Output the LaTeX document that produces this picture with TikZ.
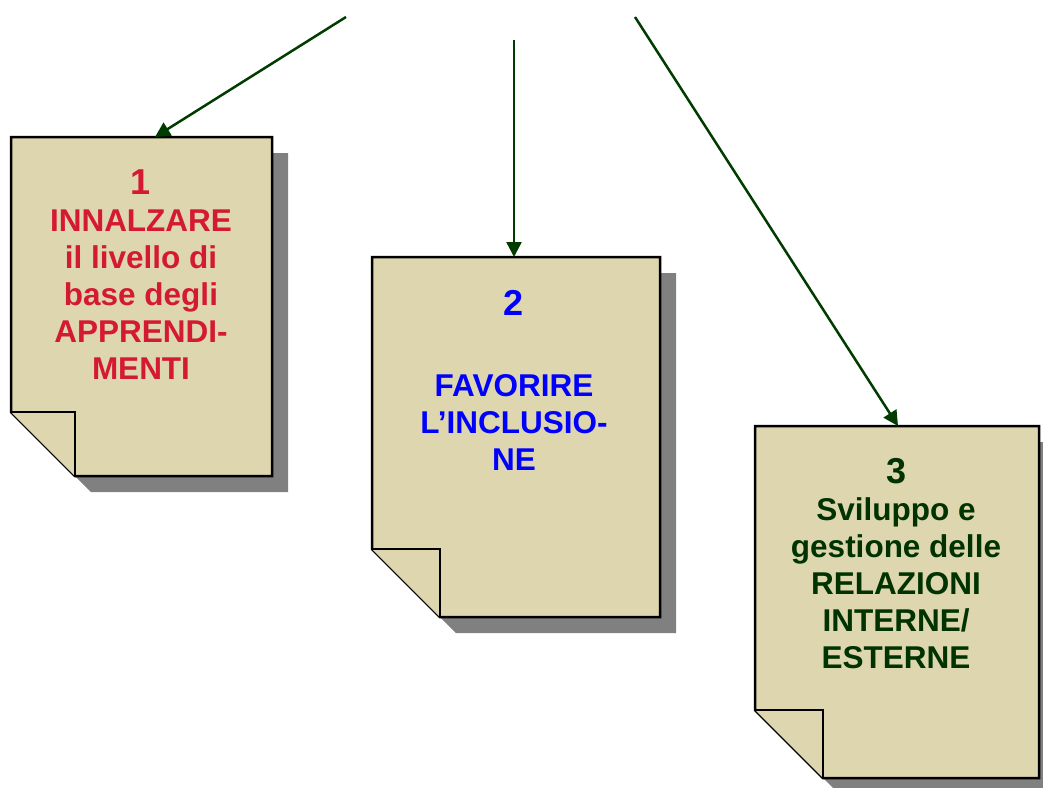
\documentclass[tikz,border=0pt]{standalone}
\usepackage{fontspec}
\setmainfont{Liberation Sans}
\usetikzlibrary{arrows.meta}
\definecolor{paper}{RGB}{222,214,174}
\definecolor{shade}{RGB}{128,128,128}
\definecolor{txtred}{RGB}{212,26,50}
\definecolor{txtblue}{RGB}{0,0,255}
\definecolor{txtgreen}{RGB}{0,51,0}
\definecolor{arrowgreen}{RGB}{0,60,0}
\newcommand{\bignum}[1]{{\fontsize{36}{37}\selectfont #1}}
\tikzset{
  docshadow/.style={fill=shade,draw=none},
  docbody/.style={fill=paper,draw=black,line width=2.5pt,line join=miter},
  doctext/.style={align=center,anchor=base,inner sep=0pt,font=\fontsize{31.5}{37}\selectfont\bfseries},
  conn/.style={draw=arrowgreen,line width=2.5pt,-{Triangle[length=15pt,width=15pt]}}
}
\newcommand{\docshape}[5]{% left, top, right, bottom, fold size
  \fill[docshadow] ({#1+16},{#2+16}) -- ({#3+16},{#2+16}) -- ({#3+16},{#4+16}) -- ({#1+#5+16},{#4+16}) -- ({#1+16},{#4-#5+16}) -- cycle;
  \draw[docbody] (#1,#2) -- (#3,#2) -- (#3,#4) -- ({#1+#5},#4) -- (#1,{#4-#5}) -- cycle;
  \draw[docbody] (#1,{#4-#5}) -- ({#1+#5},{#4-#5}) -- ({#1+#5},#4);
}
\begin{document}
\begin{tikzpicture}[x=1pt,y=-1pt]
\useasboundingbox (0,0) rectangle (1043,787);
% documents
\docshape{11}{137}{272}{476}{64}
\docshape{372}{257}{660}{617}{68}
\docshape{755}{426}{1039}{778}{68}
% anchors on the documents
\coordinate (d1) at (155,137);
\coordinate (d2) at (514,257);
\coordinate (d3) at (898,426);
% free ends
\coordinate (s1) at (346,17);
\coordinate (s2) at (514,40);
\coordinate (s3) at (635,17);
% texts (base anchor = baseline of last line)
\node[doctext,text=txtred] (t1) at (141,379) {\bignum{1}\\INNALZARE\\il livello di\\base degli\\APPRENDI-\\MENTI};
\node[doctext,text=txtblue] (t2) at (514,470) {\bignum{2}\\[44pt]FAVORIRE\\L’INCLUSIO-\\NE};
\node[doctext,text=txtgreen] (t3) at (896,668) {\bignum{3}\\Sviluppo e\\gestione delle\\RELAZIONI\\INTERNE/\\ESTERNE};
% connectors
\draw[conn] (s1) -- (d1);
\draw[conn] (s2) -- (d2);
\draw[conn] (s3) -- (d3);
\end{tikzpicture}
\end{document}
